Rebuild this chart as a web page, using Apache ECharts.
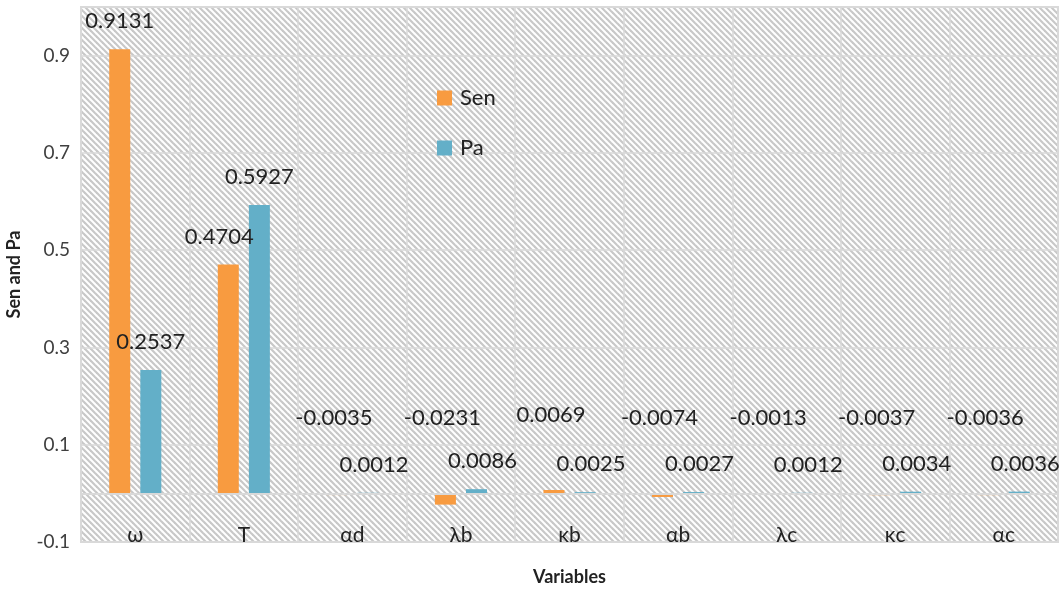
<!DOCTYPE html>
<html>
<head>
<meta charset="utf-8">
<script src="https://cdn.jsdelivr.net/npm/echarts@6/dist/echarts.min.js"></script>
<style>
  html, body { margin: 0; padding: 0; background: #ffffff; }
  #chart { width: 1063px; height: 592px; }
</style>
</head>
<body>
<div id="chart"></div>
<script>
// Sensitivity (Sen) and partial (Pa) indices for each model variable
const categories = ['ω', 'T', 'αd', 'λb', 'κb', 'αb', 'λc', 'κc', 'αc'];
const senValues = [0.9131, 0.4704, -0.0035, -0.0231, 0.0069, -0.0074, -0.0013, -0.0037, -0.0036];
const paValues  = [0.2537, 0.5927, 0.0012, 0.0086, 0.0025, 0.0027, 0.0012, 0.0034, 0.0036];
const yTicks = [-0.1, 0.1, 0.3, 0.5, 0.7, 0.9];

const FONT = 'Lato, "Open Sans", sans-serif';
const TEXT = '#222222';
const GRID_LINE = '#d9d9d9';

// diagonal hatch used as the plot-area fill
function hatchTile() {
  const n = 6;
  const c = document.createElement('canvas');
  c.width = n; c.height = n;
  const g = c.getContext('2d');
  g.fillStyle = '#ffffff';
  g.fillRect(0, 0, n, n);
  g.strokeStyle = '#c8c8c8';
  g.lineWidth = 2.2;
  for (let k = -1; k <= 1; k++) {
    g.beginPath();
    g.moveTo(k * n - 1, -1);
    g.lineTo(k * n + n + 1, n + 1);
    g.stroke();
  }
  return c;
}

// labels of the small bars sit apart from the bars so they stay readable
function senItem(v, i) {
  let offset = [0, 0];
  if (i === 1) offset = [-9, 0];
  else if (i >= 2) offset = [-3, -47];
  return { value: v, label: { offset: offset } };
}
function paItem(v, i) {
  let offset = [0, 0];
  if (i >= 2) offset = [6, 0];
  return { value: v, label: { offset: offset } };
}

const valueLabel = {
  show: true,
  position: 'top',
  distance: 17,
  fontFamily: FONT,
  fontSize: 22,
  color: TEXT,
  formatter: p => p.value.toFixed(4)
};

const chart = echarts.init(document.getElementById('chart'), null, { renderer: 'canvas' });

chart.setOption({
  animation: false,
  backgroundColor: '#ffffff',
  textStyle: { fontFamily: FONT },
  grid: {
    left: 81, right: 5, top: 7, bottom: 50,
    outerBoundsMode: 'none',
    containLabel: false,
    show: true,
    backgroundColor: { image: hatchTile(), repeat: 'repeat' },
    borderColor: GRID_LINE,
    borderWidth: 2
  },
  legend: {
    orient: 'vertical',
    left: 432, top: 82,
    icon: 'rect',
    itemWidth: 15, itemHeight: 15,
    itemGap: 28,
    textStyle: { fontFamily: FONT, fontSize: 22, color: TEXT, padding: [0, 0, 0, 3] },
    data: ['Sen', 'Pa']
  },
  xAxis: {
    type: 'category',
    data: categories,
    position: 'bottom',
    name: 'Variables',
    nameLocation: 'middle',
    nameGap: 26,
    nameTextStyle: { fontFamily: FONT, fontSize: 18, fontWeight: 'bold', color: TEXT },
    axisLine: { show: false, onZero: false },
    axisTick: { show: false },
    axisLabel: { inside: true, margin: -4, fontFamily: FONT, fontSize: 21, color: TEXT },
    splitLine: { show: true, lineStyle: { color: GRID_LINE, width: 1.5 } }
  },
  yAxis: {
    type: 'value',
    min: yTicks[0],
    max: 1.0,
    interval: 0.2,
    name: 'Sen and Pa',
    nameLocation: 'middle',
    nameGap: 58,
    nameTextStyle: { fontFamily: FONT, fontSize: 18, fontWeight: 'bold', color: TEXT },
    axisLine: { show: false },
    axisTick: { show: false },
    axisLabel: {
      margin: 11,
      fontFamily: FONT, fontSize: 19, color: '#404040',
      showMaxLabel: false,
      formatter: v => {
        const t = yTicks.find(x => Math.abs(x - v) < 1e-6);
        return t === undefined ? '' : String(t);
      }
    },
    splitLine: { show: true, lineStyle: { color: GRID_LINE, width: 1.5 } }
  },
  series: [
    {
      name: 'Sen',
      type: 'bar',
      barWidth: 21,
      barGap: '48%',
      itemStyle: { color: '#F89B40' },
      label: valueLabel,
      data: senValues.map(senItem),
      markLine: {
        silent: true,
        symbol: 'none',
        label: { show: false },
        lineStyle: { color: GRID_LINE, width: 2, type: 'solid' },
        data: [{ yAxis: 0 }]
      }
    },
    {
      name: 'Pa',
      type: 'bar',
      barWidth: 21,
      barGap: '48%',
      itemStyle: { color: '#63AFC8' },
      label: valueLabel,
      data: paValues.map(paItem)
    }
  ]
});
</script>
</body>
</html>
